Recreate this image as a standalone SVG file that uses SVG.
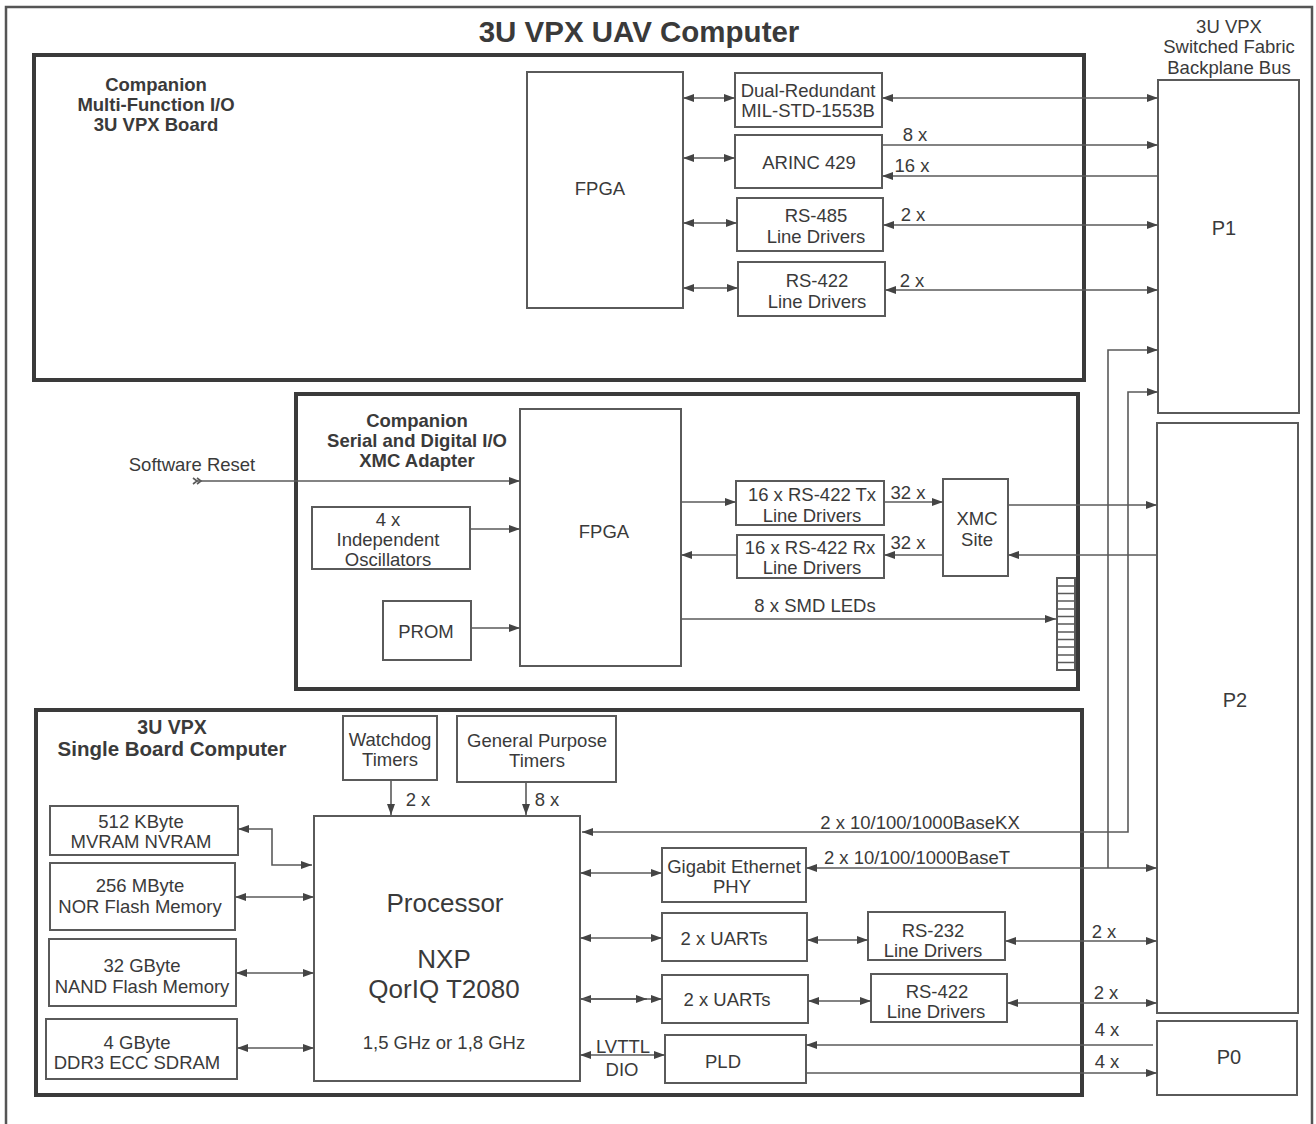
<svg xmlns="http://www.w3.org/2000/svg" width="1316" height="1124" viewBox="0 0 1316 1124">
<defs>
<style>
.t{font-family:"Liberation Sans",Arial,sans-serif;font-size:18.5px;fill:#3a3a3a;text-anchor:middle}
.b{font-family:"Liberation Sans",Arial,sans-serif;font-size:18.5px;font-weight:bold;fill:#3a3a3a;text-anchor:middle}
.big{font-family:"Liberation Sans",Arial,sans-serif;font-size:26px;fill:#3a3a3a;text-anchor:middle}
.box{fill:#fff;stroke:#5a5a5a;stroke-width:2}
.board{fill:none;stroke:#3a3a3a;stroke-width:4}
.ln{fill:none;stroke:#5a5a5a;stroke-width:1.6}
.a2{marker-start:url(#ah);marker-end:url(#ah)}
.a1{marker-end:url(#ah)}
</style>
<marker id="ah" viewBox="0 0 11 8" refX="11" refY="4" markerWidth="11" markerHeight="8" orient="auto-start-reverse" markerUnits="userSpaceOnUse"><path d="M0,0 L11,4 L0,8 z" fill="#444"/></marker>
</defs>
<rect width="1316" height="1124" fill="#fff"/>
<path d="M6,1130 V7 H1312 V1130" fill="none" stroke="#555" stroke-width="2.5"/>
<text x="639" y="42" font-family="Liberation Sans,Arial,sans-serif" font-size="29.5" font-weight="bold" fill="#3a3a3a" text-anchor="middle">3U VPX UAV Computer</text>

<g id="board-top">
<rect class="board" x="34" y="55" width="1050" height="325"/>
<text class="b" x="156" y="91">Companion</text>
<text class="b" x="156" y="111">Multi-Function I/O</text>
<text class="b" x="156" y="131">3U VPX Board</text>
</g>
<g id="board-mid">
<rect class="board" x="296" y="394" width="782" height="295"/>
<text class="b" x="417" y="427">Companion</text>
<text class="b" x="417" y="447">Serial and Digital I/O</text>
<text class="b" x="417" y="467">XMC Adapter</text>
</g>
<g id="board-bot">
<rect class="board" x="36" y="710" width="1046" height="385"/>
<text class="b" x="172" y="734" style="font-size:19.5px">3U VPX</text>
<text class="b" x="172" y="756" style="font-size:20.5px">Single Board Computer</text>
</g>

<g id="backplane-label">
<text class="t" x="1229" y="33">3U VPX</text>
<text class="t" x="1229" y="53">Switched Fabric</text>
<text class="t" x="1229" y="74">Backplane Bus</text>
</g>
<g id="p1"><rect class="box" x="1158" y="80" width="141" height="333"/><text class="t" x="1224" y="235" style="font-size:20px">P1</text></g>
<g id="p2"><rect class="box" x="1157" y="423" width="141" height="590"/><text class="t" x="1235" y="707" style="font-size:20px">P2</text></g>
<g id="p0"><rect class="box" x="1157" y="1021" width="140" height="74"/><text class="t" x="1229" y="1064" style="font-size:20px">P0</text></g>

<g id="fpga-top"><rect class="box" x="527" y="72" width="156" height="236"/><text class="t" x="600" y="195">FPGA</text></g>
<g id="mil1553"><rect class="box" x="735" y="73" width="147" height="54"/><text class="t" x="808" y="97">Dual-Redundant</text><text class="t" x="808" y="117">MIL-STD-1553B</text></g>
<g id="arinc"><rect class="box" x="735" y="135" width="147" height="53"/><text class="t" x="809" y="169">ARINC 429</text></g>
<g id="rs485"><rect class="box" x="737" y="198" width="146" height="53"/><text class="t" x="816" y="222">RS-485</text><text class="t" x="816" y="243">Line Drivers</text></g>
<g id="rs422-top"><rect class="box" x="738" y="262" width="147" height="54"/><text class="t" x="817" y="287">RS-422</text><text class="t" x="817" y="308">Line Drivers</text></g>

<g id="fpga-mid"><rect class="box" x="520" y="409" width="161" height="257"/><text class="t" x="604" y="538">FPGA</text></g>
<g id="osc"><rect class="box" x="312" y="507" width="158" height="62"/><text class="t" x="388" y="526">4 x</text><text class="t" x="388" y="546">Independent</text><text class="t" x="388" y="566">Oscillators</text></g>
<g id="prom"><rect class="box" x="383" y="601" width="88" height="59"/><text class="t" x="426" y="638">PROM</text></g>
<g id="rs422-tx"><rect class="box" x="736" y="481" width="148" height="44"/><text class="t" x="812" y="501">16 x RS-422 Tx</text><text class="t" x="812" y="522">Line Drivers</text></g>
<g id="rs422-rx"><rect class="box" x="737" y="535" width="147" height="43"/><text class="t" x="810" y="554">16 x RS-422 Rx</text><text class="t" x="812" y="574">Line Drivers</text></g>
<g id="xmc"><rect class="box" x="943" y="479" width="65" height="97"/><text class="t" x="977" y="525">XMC</text><text class="t" x="977" y="546">Site</text></g>
<g id="leds"><rect class="box" x="1057" y="578" width="18" height="92"/>
<path class="ln" d="M1057,586 H1075 M1057,593.5 H1075 M1057,601 H1075 M1057,609 H1075 M1057,616.5 H1075 M1057,624 H1075 M1057,632 H1075 M1057,639.5 H1075 M1057,647 H1075 M1057,655 H1075 M1057,662.5 H1075"/></g>

<g id="watchdog"><rect class="box" x="343" y="716" width="94" height="64"/><text class="t" x="390" y="746">Watchdog</text><text class="t" x="390" y="766">Timers</text></g>
<g id="gptimers"><rect class="box" x="457" y="716" width="159" height="66"/><text class="t" x="537" y="747">General Purpose</text><text class="t" x="537" y="767">Timers</text></g>
<g id="processor"><rect class="box" x="314" y="816" width="266" height="265"/>
<text class="big" x="445" y="912">Processor</text><text class="big" x="444" y="968">NXP</text><text class="big" x="444" y="998">QorIQ T2080</text><text class="t" x="444" y="1049">1,5 GHz or 1,8 GHz</text></g>
<g id="nvram"><rect class="box" x="50" y="806" width="188" height="49"/><text class="t" x="141" y="828">512 KByte</text><text class="t" x="141" y="848">MVRAM NVRAM</text></g>
<g id="nor"><rect class="box" x="50" y="863" width="185" height="67"/><text class="t" x="140" y="892">256 MByte</text><text class="t" x="140" y="913">NOR Flash Memory</text></g>
<g id="nand"><rect class="box" x="49" y="939" width="187" height="67"/><text class="t" x="142" y="972">32 GByte</text><text class="t" x="142" y="993">NAND Flash Memory</text></g>
<g id="ddr"><rect class="box" x="46" y="1019" width="191" height="60"/><text class="t" x="137" y="1049">4 GByte</text><text class="t" x="137" y="1069">DDR3 ECC SDRAM</text></g>
<g id="gbe"><rect class="box" x="662" y="848" width="144" height="54"/><text class="t" x="734" y="873">Gigabit Ethernet</text><text class="t" x="732" y="893">PHY</text></g>
<g id="uart1"><rect class="box" x="662" y="913" width="145" height="48"/><text class="t" x="724" y="945">2 x UARTs</text></g>
<g id="rs232"><rect class="box" x="868" y="912" width="137" height="48"/><text class="t" x="933" y="937">RS-232</text><text class="t" x="933" y="957">Line Drivers</text></g>
<g id="uart2"><rect class="box" x="662" y="975" width="146" height="48"/><text class="t" x="727" y="1006">2 x UARTs</text></g>
<g id="rs422-bot"><rect class="box" x="871" y="974" width="136" height="48"/><text class="t" x="937" y="998">RS-422</text><text class="t" x="936" y="1018">Line Drivers</text></g>
<g id="pld"><rect class="box" x="665" y="1035" width="141" height="48"/><text class="t" x="723" y="1068">PLD</text></g>

<g id="connectors">
<path class="ln a2" d="M683,98 H735"/>
<path class="ln a2" d="M683,158 H735"/>
<path class="ln a2" d="M683,223 H737"/>
<path class="ln a2" d="M683,288 H738"/>
<path class="ln a2" d="M882,98 H1158"/>
<path class="ln a1" d="M882,145 H1158"/>
<path class="ln a1" d="M1158,176 H882"/>
<path class="ln a2" d="M883,225 H1158"/>
<path class="ln a2" d="M885,290 H1158"/>
<text class="t" x="915" y="141">8 x</text>
<text class="t" x="912" y="172">16 x</text>
<text class="t" x="913" y="221">2 x</text>
<text class="t" x="912" y="287">2 x</text>

<path class="ln a1" d="M197,481 H520"/>
<path class="ln" d="M193,478 L197,481 L193,484 M197,478 L201,481 L197,484"/>
<text class="t" x="192" y="471">Software Reset</text>
<path class="ln a1" d="M470,529 H520"/>
<path class="ln a1" d="M471,628 H520"/>
<path class="ln a1" d="M681,502 H736"/>
<path class="ln a1" d="M884,502 H943"/>
<path class="ln a1" d="M737,555 H681"/>
<path class="ln a1" d="M943,555 H884"/>
<path class="ln a1" d="M1008,505 H1157"/>
<path class="ln a1" d="M1157,555 H1008"/>
<path class="ln a1" d="M681,619 H1056"/>
<text class="t" x="908" y="499">32 x</text>
<text class="t" x="908" y="549">32 x</text>
<text class="t" x="815" y="612">8 x SMD LEDs</text>

<path class="ln a1" d="M391,781 V815"/>
<path class="ln a1" d="M526,782 V815"/>
<text class="t" x="418" y="806">2 x</text>
<text class="t" x="547" y="806">8 x</text>
<path class="ln a2" d="M238,829 H272 V865 H312"/>
<path class="ln a2" d="M235,897 H314"/>
<path class="ln a2" d="M236,973 H314"/>
<path class="ln a2" d="M237,1048 H314"/>
<path class="ln a2" d="M582,832 H1128 V392 H1158"/>
<path class="ln a2" d="M806,868 H1157"/>
<path class="ln a1" d="M1108,868 V350 H1158"/>
<text class="t" x="920" y="829">2 x 10/100/1000BaseKX</text>
<text class="t" x="917" y="864">2 x 10/100/1000BaseT</text>
<path class="ln a2" d="M580,873 H662"/>
<path class="ln a2" d="M580,938 H662"/>
<path class="ln a2" d="M807,940 H868"/>
<path class="ln a2" d="M1005,941 H1157"/>
<text class="t" x="1104" y="938">2 x</text>
<path class="ln a2" d="M580,999 H662"/>
<path class="ln a1" d="M580,999 H647"/>
<path class="ln a2" d="M808,1001 H871"/>
<path class="ln a2" d="M1007,1003 H1157"/>
<text class="t" x="1106" y="999">2 x</text>
<path class="ln a2" d="M580,1055 H665"/>
<text class="t" x="623" y="1053">LVTTL</text>
<text class="t" x="622" y="1076">DIO</text>
<path class="ln a1" d="M1153,1045 H806"/>
<path class="ln a1" d="M806,1073 H1157"/>
<text class="t" x="1107" y="1036">4 x</text>
<text class="t" x="1107" y="1068">4 x</text>
</g>
</svg>
